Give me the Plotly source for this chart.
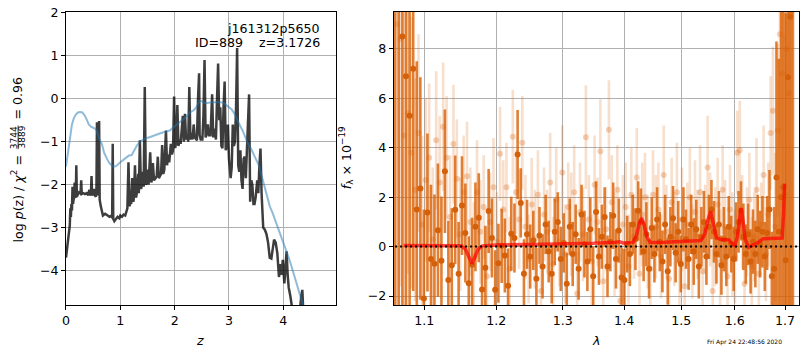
import math
import plotly.graph_objects as go

# ---------------- redshift probability panel ----------------
pz_z = [0.00, 0.02, 0.04, 0.06, 0.07, 0.08, 0.09, 0.10, 0.11, 0.12, 0.13, 0.14, 0.15, 0.16, 0.17,
        0.18, 0.19, 0.20, 0.22, 0.24, 0.26, 0.27, 0.28, 0.29, 0.32, 0.35, 0.38, 0.41, 0.43, 0.44,
        0.46, 0.47, 0.48, 0.50, 0.52, 0.53, 0.55, 0.56, 0.57, 0.58, 0.59, 0.61, 0.62, 0.64, 0.66,
        0.68, 0.72, 0.76, 0.80, 0.84, 0.85, 0.86, 0.87, 0.89, 0.92, 0.95, 0.98, 1.00, 1.03, 1.06,
        1.09, 1.12, 1.13, 1.15, 1.17, 1.19, 1.20, 1.22, 1.24, 1.25, 1.27, 1.29, 1.31, 1.33, 1.34,
        1.36, 1.38, 1.40, 1.41, 1.43, 1.45, 1.47, 1.49, 1.50, 1.52, 1.55, 1.57, 1.59, 1.60, 1.62,
        1.65, 1.67, 1.69, 1.71, 1.73, 1.75, 1.77, 1.79, 1.81, 1.82, 1.84, 1.86, 1.88, 1.90, 1.92,
        1.93, 1.95, 1.97, 1.99, 2.01, 2.03, 2.05, 2.07, 2.09, 2.11, 2.13, 2.15, 2.17, 2.19, 2.21,
        2.23, 2.25, 2.27, 2.29, 2.31, 2.33, 2.35, 2.37, 2.39, 2.41, 2.43, 2.45, 2.46, 2.48, 2.51,
        2.53, 2.55, 2.57, 2.59, 2.61, 2.63, 2.66, 2.69, 2.71, 2.73, 2.76, 2.78, 2.80, 2.82, 2.84,
        2.86, 2.88, 2.90, 2.92, 2.94, 2.96, 2.98, 3.00, 3.03, 3.05, 3.07, 3.09, 3.11, 3.13, 3.15,
        3.17, 3.19, 3.21, 3.23, 3.25, 3.27, 3.29, 3.31, 3.33, 3.35, 3.37, 3.39, 3.41, 3.43, 3.45,
        3.47, 3.49, 3.52, 3.54, 3.56, 3.58, 3.60, 3.63, 3.66, 3.69, 3.72, 3.75, 3.78, 3.80, 3.83,
        3.86, 3.89, 3.92, 3.95, 3.97, 3.99, 4.02, 4.04, 4.06, 4.08, 4.10, 4.13, 4.16, 4.20, 4.30,
        4.33, 4.35, 4.37, 4.40]
pz_logp = [-3.70, -3.45, -3.25, -3.05, -2.95, -2.55, -2.75, -2.45, -2.60, -2.05, -2.45, -2.35, -2.30, -1.95, -2.30,
           -2.28, -1.55, -2.28, -2.22, -2.18, -2.20, -2.15, -1.90, -2.22, -2.20, -2.22, -2.20, -2.25, -2.12, -2.25,
           -2.20, -1.80, -2.25, -2.20, -2.10, -2.25, -2.28, -2.20, -0.55, -2.10, -2.25, -0.52, -2.35, -2.50, -2.65,
           -2.72, -2.68, -2.72, -2.75, -2.72, -2.78, -1.05, -2.80, -2.85, -2.80, -2.75, -2.78, -2.72, -2.75, -2.70,
           -2.72, -2.62, -2.55, -1.48, -2.50, -2.40, -2.45, -1.85, -2.40, -2.30, -1.55, -2.30, -2.15, -1.75, -2.20,
           -0.97, -2.10, -2.00, -1.70, -2.05, 0.27, -2.00, -1.95, -1.65, -2.00, -1.25, -1.95, -1.85, -1.50, -1.90,
           -1.85, -1.80, -1.35, -1.85, -1.80, -1.75, -1.08, -1.75, -1.65, -1.40, -0.74, -1.55, -1.30, -1.48, -1.25,
           -1.05, -1.30, -1.20, 0.05, -1.15, -1.00, -0.15, -1.10, -0.95, -1.05, -0.70, -0.40, -1.00, -0.35, -0.95,
           -0.85, -1.00, 0.27, -0.95, -0.80, -0.95, -0.60, -0.90, -0.95, -0.97, 0.00, 0.59, -0.85, -0.95, -0.95,
           -0.40, 0.90, -0.90, -0.80, -0.60, -0.85, -0.85, 0.10, -0.90, -0.70, -0.95, 0.00, 0.82, -0.50, -0.20,
           -1.10, -1.15, -0.20, 0.40, -1.20, -1.10, -0.60, -1.40, -1.85, -1.60, -0.60, -1.10, -1.00, -0.20, 1.18,
           -1.55, -1.70, -1.20, -1.90, -2.10, -1.40, -1.35, -1.85, -1.30, -0.40, 0.10, -2.40, -1.90, -2.00, -2.45,
           -2.45, -2.30, -1.90, -2.20, -1.55, -1.16, -2.20, -3.00, -3.05, -3.15, -3.35, -3.70, -3.72, -3.55, -3.28,
           -3.35, -3.60, -4.15, -3.85, -4.10, -3.75, -4.30, -4.00, -3.55, -4.10, -4.40, -4.60, -4.85, -5.00, -5.00,
           -4.60, -4.45, -5.00, -5.20]

prior_z = [0.00, 0.02, 0.05, 0.08, 0.11, 0.14, 0.18, 0.22, 0.26, 0.30, 0.34, 0.38, 0.42, 0.46, 0.50,
           0.54, 0.57, 0.60, 0.63, 0.66, 0.70, 0.75, 0.80, 0.87, 0.92, 1.00, 1.06, 1.12, 1.16, 1.21,
           1.25, 1.30, 1.36, 1.45, 1.55, 1.65, 1.75, 1.85, 1.91, 2.00, 2.10, 2.20, 2.28, 2.35, 2.40,
           2.46, 2.50, 2.55, 2.60, 2.70, 2.80, 2.85, 2.90, 2.95, 3.00, 3.05, 3.10, 3.15, 3.20, 3.25,
           3.30, 3.35, 3.40, 3.45, 3.50, 3.55, 3.60, 3.65, 3.70, 3.75, 3.80, 3.85, 3.90, 3.95, 4.00,
           4.05, 4.10, 4.15, 4.20, 4.25, 4.30, 4.35, 4.40]
prior_logp = [-1.58, -1.40, -1.05, -0.80, -0.60, -0.47, -0.37, -0.32, -0.31, -0.32, -0.38, -0.48, -0.60, -0.65, -0.67,
              -0.70, -0.76, -0.90, -1.00, -1.05, -1.25, -1.39, -1.50, -1.58, -1.57, -1.48, -1.43, -1.36, -1.32, -1.31,
              -1.22, -1.10, -1.00, -0.93, -0.89, -0.84, -0.80, -0.76, -0.74, -0.64, -0.55, -0.44, -0.32, -0.27, -0.20,
              -0.05, -0.06, -0.10, -0.10, -0.08, -0.08, -0.08, -0.10, -0.15, -0.20, -0.25, -0.35, -0.50, -0.62, -0.74,
              -0.90, -1.05, -1.15, -1.30, -1.42, -1.55, -1.80, -2.05, -2.30, -2.50, -2.65, -2.82, -2.98, -3.15, -3.33,
              -3.52, -3.70, -3.90, -4.10, -4.30, -4.50, -4.75, -5.00]

# ---------------- grism spectrum panel ----------------
wave_a = [1.0620, 1.0667, 1.0714, 1.0761, 1.0808, 1.0855, 1.0902, 1.0949, 1.0996, 1.1043,
          1.1090, 1.1137, 1.1184, 1.1231, 1.1278, 1.1325, 1.1372, 1.1419, 1.1466, 1.1513,
          1.1560, 1.1607, 1.1654, 1.1701, 1.1748, 1.1795, 1.1842, 1.1889, 1.1936, 1.1983,
          1.2030, 1.2077, 1.2124, 1.2171, 1.2218, 1.2265, 1.2312, 1.2359, 1.2406, 1.2453,
          1.2500, 1.2547, 1.2594, 1.2641, 1.2688, 1.2735, 1.2782, 1.2829, 1.2876, 1.2923,
          1.2970, 1.3017, 1.3064, 1.3111, 1.3158, 1.3205, 1.3252, 1.3299, 1.3346, 1.3393,
          1.3440, 1.3487, 1.3534, 1.3581, 1.3628, 1.3675, 1.3722, 1.3769, 1.3816, 1.3863,
          1.3910, 1.3957, 1.4004, 1.4051, 1.4098, 1.4145, 1.4192, 1.4239, 1.4286, 1.4333,
          1.4380, 1.4427, 1.4474, 1.4521, 1.4568, 1.4615, 1.4662, 1.4709, 1.4756, 1.4803,
          1.4850, 1.4897, 1.4944, 1.4991, 1.5038, 1.5085, 1.5132, 1.5179, 1.5226, 1.5273,
          1.5320, 1.5367, 1.5414, 1.5461, 1.5508, 1.5555, 1.5602, 1.5649, 1.5696, 1.5743,
          1.5790, 1.5837, 1.5884, 1.5931, 1.5978, 1.6025, 1.6072, 1.6119, 1.6166, 1.6213,
          1.6260, 1.6307, 1.6354, 1.6401, 1.6448, 1.6495, 1.6542, 1.6589, 1.6636, 1.6683,
          1.6730, 1.6777, 1.6824, 1.6871, 1.6918, 1.6965, 1.7012, 1.7059, 1.7106, 1.7153]
flux_a = [12.0, 10.0, 8.5, 6.9, 5.3, 7.2, 1.5, 2.35, -2.1, 1.38,
          -0.5, -0.69, 0.66, -0.57, 3.05, -1.35, -0.75, 1.49, -1.1, 1.66,
          0.55, -1.48, -0.73, 0.8, 1.17, -1.74, -0.86, 1.44, 0.35, -1.75,
          -0.67, 0.03, -0.36, -1.58, 0.52, 0.35, 3.73, 1.77, -1.1, 0.5,
          -0.4, 0.25, -1.3, 0.45, -0.8, 0.9, -0.2, -1.1, 0.6, 1.0,
          -0.5, 0.15, -1.5, 0.8, -0.3, 0.5, -0.9, 1.3, 0.1, -0.6,
          0.7, -1.2, 1.4, -0.4, 0.4, 1.2, -0.8, 0.2, 1.25, -0.5,
          0.65, -1.25, -1.35, 0.1, -0.3, 0.9, 0.3, 1.45, 1.0, -0.2,
          0.5, -0.9, 0.75, -0.3, 1.1, 0.2, -0.6, 0.9, -1.0, 0.4,
          1.15, -0.25, 0.6, -0.7, 1.1, 0.3, -0.5, 0.9, -0.2, 0.7,
          -0.8, 0.4, 1.0, -0.4, 0.8, 1.5, 0.6, -0.3, 0.9, -0.75,
          0.3, -0.4, 0.8, 0.1, -0.5, 0.6, 1.0, 1.45, 0.4, -0.3,
          0.5, -0.6, 0.2, -0.3, 0.7, 0.1, 0.6, -0.4, 0.55, 1.5,
          -1.2, -0.9, 2.8, 0.6, 2.0, 2.4, -0.55, 6.85, 9.3, 11.0]
err_a = [15, 14, 12, 10, 9, 9, 6, 4.5, 3.6, 3.2,
         3.0, 2.8, 2.7, 2.6, 2.5, 2.4, 2.3, 2.2, 2.1, 2.0,
         2.0, 1.9, 1.9, 1.8, 1.8, 1.7, 1.7, 1.7, 1.6, 1.6,
         1.6, 1.5, 1.5, 1.5, 1.5, 1.4, 1.8, 1.4, 1.4, 1.4,
         1.3, 1.2, 1.25, 1.15, 1.3, 1.2, 1.25, 1.2, 1.35, 1.2,
         1.3, 1.2, 1.25, 1.15, 1.3, 1.2, 1.25, 1.2, 1.35, 1.2,
         1.3, 1.2, 1.25, 1.15, 1.3, 1.2, 1.25, 1.2, 1.35, 1.2,
         1.3, 1.2, 1.25, 1.15, 1.3, 1.2, 1.25, 1.2, 1.35, 1.2,
         1.3, 1.2, 1.25, 1.15, 1.3, 1.2, 1.25, 1.2, 1.35, 1.2,
         1.3, 1.2, 1.25, 1.15, 1.3, 1.2, 1.25, 1.2, 1.35, 1.2,
         1.3, 1.2, 1.25, 1.15, 1.3, 1.2, 1.25, 1.2, 1.35, 1.2,
         1.3, 1.2, 1.25, 1.15, 1.3, 1.2, 1.25, 1.2, 1.35, 1.2,
         1.25, 1.3, 1.3, 1.35, 1.4, 1.35, 1.45, 1.4, 1.5, 1.6,
         1.8, 2.5, 5.5, 7.0, 8.0, 9.0, 10.0, 12.0, 14.0, 15.0]

wave_b = [1.0643, 1.0690, 1.0737, 1.0784, 1.0831, 1.0878, 1.0925, 1.0972, 1.1019, 1.1066,
          1.1113, 1.1160, 1.1207, 1.1254, 1.1301, 1.1348, 1.1395, 1.1442, 1.1489, 1.1536,
          1.1583, 1.1630, 1.1677, 1.1724, 1.1771, 1.1818, 1.1865, 1.1912, 1.1959, 1.2006,
          1.2053, 1.2100, 1.2147, 1.2194, 1.2241, 1.2288, 1.2335, 1.2382, 1.2429, 1.2476,
          1.2523, 1.2570, 1.2617, 1.2664, 1.2711, 1.2758, 1.2805, 1.2852, 1.2899, 1.2946,
          1.2993, 1.3040, 1.3087, 1.3134, 1.3181, 1.3228, 1.3275, 1.3322, 1.3369, 1.3416,
          1.3463, 1.3510, 1.3557, 1.3604, 1.3651, 1.3698, 1.3745, 1.3792, 1.3839, 1.3886,
          1.3933, 1.3980, 1.4027, 1.4074, 1.4121, 1.4168, 1.4215, 1.4262, 1.4309, 1.4356,
          1.4403, 1.4450, 1.4497, 1.4544, 1.4591, 1.4638, 1.4685, 1.4732, 1.4779, 1.4826,
          1.4873, 1.4920, 1.4967, 1.5014, 1.5061, 1.5108, 1.5155, 1.5202, 1.5249, 1.5296,
          1.5343, 1.5390, 1.5437, 1.5484, 1.5531, 1.5578, 1.5625, 1.5672, 1.5719, 1.5766,
          1.5813, 1.5860, 1.5907, 1.5954, 1.6001, 1.6048, 1.6095, 1.6142, 1.6189, 1.6236,
          1.6283, 1.6330, 1.6377, 1.6424, 1.6471, 1.6518, 1.6565, 1.6612, 1.6659, 1.6706,
          1.6753, 1.6800, 1.6847, 1.6894, 1.6941, 1.6988, 1.7035, 1.7082, 1.7129, 1.7176]
flux_b = [9.0, 8.4, 4.5, 5.4, 3.8, 2.3, 4.6, 0.9, 2.7, 3.6,
          0.3, 4.3, 2.6, 4.85, 3.6, 1.2, 4.15, 2.75, 0.5, 2.2,
          2.85, 1.0, -0.4, 2.2, 0.6, 1.6, -1.2, 1.0, 2.4, 0.2,
          3.76, 1.5, 2.4, -0.9, 4.45, 2.2, 1.1, 4.2, 0.8, -0.5,
          1.7, 0.3, 2.1, -1.8, 1.3, 0.6, 2.6, -0.7, 1.9, 0.2,
          3.0, -0.3, 1.6, 0.9, 2.2, -1.9, 1.4, 0.5, 4.43, 1.1,
          -0.6, 2.5, 1.0, 3.86, -1.4, 0.7, 4.73, 1.8, 0.1, 2.3,
          -2.2, 0.9, 1.6, -0.8, 2.1, 0.4, 2.8, -1.1, 1.3, 2.0,
          0.2, -0.9, 2.1, 0.8, 1.5, -0.4, 2.9, 0.6, -1.3, 1.8,
          0.3, 2.2, -0.6, 1.1, -1.6, 0.9, 2.0, -0.2, 1.4, 0.5,
          2.2, -1.0, 0.7, 3.2, 1.1, -1.8, 0.4, 1.7, -0.6, 2.3,
          0.8, -1.2, 1.5, 0.1, -0.4, 3.8, 3.9, 1.0, -1.5, 0.6,
          1.9, -0.8, 0.4, 2.3, -1.1, 0.9, 2.9, -0.3, 1.3, 4.6,
          5.5, 0.8, 4.7, 8.6, 7.0, 2.1, 8.0, 6.2, 9.5, 10.5]
err_b = [12, 10, 8, 6.5, 5.5, 4.5, 4.0, 3.6, 3.3, 3.0,
         2.9, 2.8, 2.7, 2.6, 2.5, 2.5, 2.4, 2.4, 2.3, 2.3,
         2.2, 2.2, 2.2, 2.1, 2.1, 2.1, 2.0, 2.0, 2.0, 2.0,
         1.9, 2.0, 1.8, 2.1, 1.9, 1.7, 2.0, 1.9, 2.1, 1.8,
         1.9, 2.0, 1.8, 2.1, 1.9, 1.7, 2.0, 1.9, 2.1, 1.8,
         1.9, 2.0, 1.8, 2.1, 1.9, 1.7, 2.0, 1.9, 2.1, 1.8,
         1.9, 2.0, 1.8, 2.1, 1.9, 1.7, 2.0, 1.9, 2.1, 1.8,
         1.9, 2.0, 1.8, 2.1, 1.9, 1.7, 2.0, 1.9, 2.1, 1.8,
         1.9, 2.0, 1.8, 2.1, 1.9, 1.7, 2.0, 1.9, 2.1, 1.8,
         1.9, 2.0, 1.8, 2.1, 1.9, 1.7, 2.0, 1.9, 2.1, 1.8,
         1.9, 2.0, 1.8, 2.1, 1.9, 1.7, 2.0, 1.9, 2.1, 1.8,
         1.9, 2.0, 1.8, 2.1, 1.9, 1.7, 2.0, 1.9, 2.1, 1.8,
         1.9, 2.0, 1.8, 2.1, 1.9, 1.7, 2.0, 1.9, 2.1, 2.3,
         2.6, 3.0, 3.5, 4.5, 5.5, 6.5, 8.0, 10.0, 12.0, 14.0]

model_wave = [1.073, 1.100, 1.130, 1.150, 1.156, 1.161, 1.165, 1.169, 1.174, 1.180,
              1.200, 1.250, 1.300, 1.350, 1.385, 1.392, 1.398, 1.415, 1.421, 1.426,
              1.430, 1.434, 1.439, 1.445, 1.470, 1.500, 1.536, 1.543, 1.549, 1.554,
              1.559, 1.565, 1.575, 1.588, 1.596, 1.600, 1.605, 1.609, 1.612, 1.615,
              1.620, 1.627, 1.640, 1.656, 1.680, 1.694, 1.697, 1.699]
model_flux = [0.04, 0.04, 0.04, 0.03, -0.10, -0.45, -0.69, -0.45, -0.10, 0.03,
              0.07, 0.09, 0.11, 0.14, 0.18, 0.20, 0.15, 0.17, 0.45, 0.95,
              1.16, 0.90, 0.40, 0.17, 0.18, 0.20, 0.25, 0.50, 1.10, 1.43,
              1.00, 0.35, 0.28, 0.28, 0.10, 0.05, 0.40, 1.20, 1.56, 1.20,
              0.30, -0.02, 0.10, 0.32, 0.33, 0.35, 1.40, 2.55]

zero_wave = [1.062, 1.728]
zero_flux = [0.0, 0.0]

wave_ticks = [1.1, 1.2, 1.3, 1.4, 1.5, 1.6, 1.7]
wave_ticklabels = ["1.1", "1.2", "1.3", "1.4", "1.5", "1.6", "1.7"]

W, H = 800, 350
FONT = "DejaVu Sans"
FS = 12.6


def fx(px):
    return px / W


def fy(py):
    return 1 - py / H


fig = go.Figure()

fig.add_trace(go.Scatter(x=pz_z, y=pz_logp, mode="lines",
                         line=dict(color="rgba(0,0,0,0.76)", width=2.5),
                         xaxis="x", yaxis="y", hoverinfo="skip"))
fig.add_trace(go.Scatter(x=prior_z, y=prior_logp, mode="lines",
                         line=dict(color="rgba(31,119,180,0.5)", width=2),
                         xaxis="x", yaxis="y", hoverinfo="skip"))

fig.add_trace(go.Scatter(x=wave_b, y=flux_b, mode="markers",
                         marker=dict(size=6, color="rgba(217,95,2,0.28)", line=dict(width=0)),
                         error_y=dict(type="data", array=err_b, visible=True, thickness=2.6,
                                      width=0, color="rgba(217,95,2,0.2)"),
                         xaxis="x2", yaxis="y2", hoverinfo="skip"))
fig.add_trace(go.Scatter(x=wave_a, y=flux_a, mode="markers",
                         marker=dict(size=6, color="#d5600a", line=dict(width=0)),
                         error_y=dict(type="data", array=err_a, visible=True, thickness=2.6,
                                      width=0, color="rgba(217,95,2,0.8)"),
                         xaxis="x2", yaxis="y2", hoverinfo="skip"))
fig.add_trace(go.Scatter(x=model_wave, y=model_flux, mode="lines",
                         line=dict(color="rgba(255,0,0,0.7)", width=3.5),
                         xaxis="x2", yaxis="y2", hoverinfo="skip"))
fig.add_trace(go.Scatter(x=zero_wave, y=zero_flux, mode="lines",
                         line=dict(color="black", width=2, dash="2px,3px"),
                         xaxis="x2", yaxis="y2", hoverinfo="skip"))

axis_common = dict(showgrid=True, gridcolor="#b0b0b0", gridwidth=1,
                   showline=True, mirror=True, linecolor="black", linewidth=1,
                   ticks="outside", ticklen=4, tickwidth=1, tickcolor="black",
                   zeroline=False, ticklabeloverflow="allow",
                   tickfont=dict(family=FONT, size=FS, color="black"))

y_dom = [fy(304), fy(5)]
fig.update_layout(
    width=W, height=H,
    margin=dict(l=0, r=0, t=0, b=0, pad=0),
    paper_bgcolor="white", plot_bgcolor="white",
    showlegend=False,
    font=dict(family=FONT, size=FS, color="black"),
    xaxis=dict(domain=[fx(62.3), fx(333.3)], range=[0, 4.963], tick0=0, dtick=1,
               anchor="y", **axis_common),
    yaxis=dict(domain=y_dom, range=[-4.8, 2.02], tick0=0, dtick=1,
               anchor="x", **axis_common),
    xaxis2=dict(domain=[fx(391.7), fx(799.3)], type="log",
                range=[math.log10(1.0603), math.log10(1.7294)],
                tickmode="array", tickvals=wave_ticks, ticktext=wave_ticklabels,
                anchor="y2", **axis_common),
    yaxis2=dict(domain=y_dom, range=[-2.36, 9.5], tick0=0, dtick=2,
                anchor="x2", **axis_common),
)

nb = "\u00a0"
annotations = [
    # object name and redshift
    dict(x=fx(319), y=fy(22), text="j161312p5650", xanchor="right", yanchor="middle"),
    dict(x=fx(319), y=fy(36.5), text="ID=889" + nb * 4 + "z=3.1726", xanchor="right",
         yanchor="middle"),
    # axis titles
    dict(x=fx(197), y=fy(340), text="<i>z</i>", xanchor="center", yanchor="middle"),
    dict(x=fx(595), y=fy(340), text="<i>λ</i>", xanchor="center", yanchor="middle"),
    dict(x=fx(344), y=fy(154), text="<i>f</i><sub>λ</sub> × 10<sup>−19</sup>",
         textangle=-90, xanchor="center", yanchor="middle"),
    # left y label, built from pieces around a stacked fraction
    dict(x=fx(13.5), y=fy(195), text="log <i>p</i>(z) / <i>χ</i><sup>2</sup> =",
         textangle=-90, xanchor="center", yanchor="middle"),
    dict(x=fx(10.0), y=fy(133), text="3744", textangle=-90, xanchor="center",
         yanchor="middle", font=dict(size=9)),
    dict(x=fx(18.3), y=fy(133), text="3889", textangle=-90, xanchor="center",
         yanchor="middle", font=dict(size=9)),
    dict(x=fx(13.5), y=fy(93), text="= 0.96", textangle=-90, xanchor="center",
         yanchor="middle"),
    # timestamp
    dict(x=fx(744), y=fy(342), text="Fri Apr 24 22:48:56 2020", xanchor="center",
         yanchor="middle", font=dict(size=6)),
]
for a in annotations:
    a.setdefault("xref", "paper")
    a.setdefault("yref", "paper")
    a.setdefault("showarrow", False)
    a.setdefault("borderpad", 0)
fig.update_layout(annotations=annotations)

# fraction bar of the stacked ratio
fig.add_shape(type="line", xref="paper", yref="paper",
              x0=fx(14.2), x1=fx(14.2), y0=fy(121), y1=fy(145),
              line=dict(color="black", width=0.8))

fig.write_html("out.html")
